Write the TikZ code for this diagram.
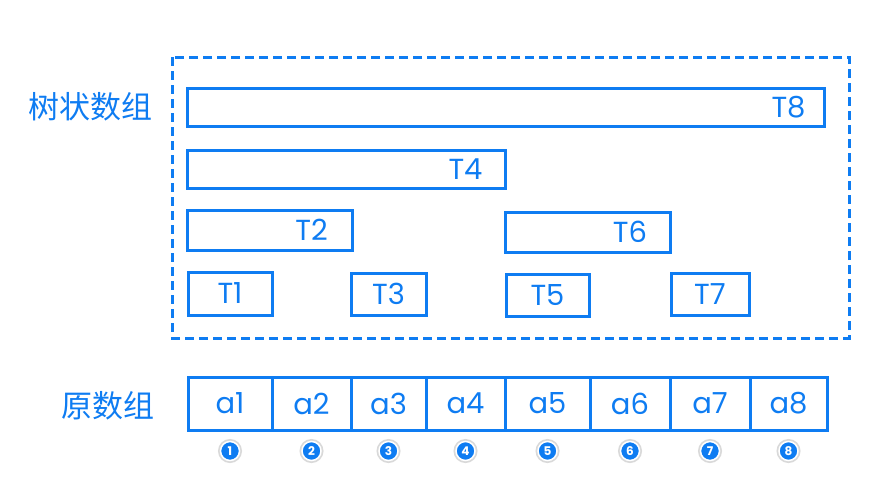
\documentclass[tikz,border=0pt]{standalone}
\usepackage{fontspec}
\setmainfont{Poppins}
\newfontfamily\cjk{Noto Sans CJK SC}
\usepackage{tikz}
\usetikzlibrary{calc}
\definecolor{tblue}{RGB}{14,124,242}

\begin{document}
\begin{tikzpicture}[x=1pt, y=-1pt, line width=3pt, inner sep=0pt,
		box/.style={rectangle, draw=tblue},
		lbl/.style={text=tblue, font=\fontsize{29}{32}\selectfont},
		cell/.style={rectangle, draw=tblue, minimum height=53pt, text=tblue, font=\fontsize{29}{32}\selectfont},
		num/.style={circle, fill=tblue, draw=white, line width=1.5pt, minimum size=19pt, text=white,
			font=\fontsize{12}{12}\selectfont\bfseries, preaction={draw=black!15, line width=5pt}},
		arrname/.style={text=tblue, font=\fontsize{31}{34}\selectfont\cjk}]
			\useasboundingbox (0,0) rectangle (892,499);
			
			% tree array
			\draw[tblue, dashed, dash pattern=on 9pt off 5pt] (172,57) rectangle (849,338);
			\node[arrname](tree) at (90,107) {树状数组};
			
			\node[box, minimum width=637pt, minimum height=38pt](T8) at (505.5,107) {};
			\node[box, minimum width=318pt, minimum height=38pt](T4) at (346,169) {};
			\node[box, minimum width=165pt, minimum height=40pt](T2) at (269.5,230) {};
			\node[box, minimum width=165pt, minimum height=40pt](T6) at (587.5,232) {};
			\node[box, lbl, minimum width=84pt, minimum height=43pt](T1) at (230,293.5) {T1};
			\node[box, lbl, minimum width=75pt, minimum height=42pt](T3) at (388.5,294) {T3};
			\node[box, lbl, minimum width=83pt, minimum height=42pt](T5) at (547.5,295) {T5};
			\node[box, lbl, minimum width=78pt, minimum height=42pt](T7) at (710,294) {T7};
			
			% original array
			\node[arrname](orig) at (108,406) {原数组};
			\node[cell, minimum width=84pt](a1) at (230,403.5) {a1};
			\node[cell, minimum width=79pt](a2) at (311.5,403.5) {a2};
			\node[cell, minimum width=75pt](a3) at (388.5,403.5) {a3};
			\node[cell, minimum width=79pt](a4) at (465.5,403.5) {a4};
			\node[cell, minimum width=85pt](a5) at (547.5,403.5) {a5};
			\node[cell, minimum width=80pt](a6) at (630,403.5) {a6};
			\node[cell, minimum width=80pt](a7) at (710,403.5) {a7};
			\node[cell, minimum width=77pt](a8) at (788.5,403.5) {a8};
			
			\node[lbl](T8t) at (a8 |- T8) {T8};
			\node[lbl](T4t) at (a4 |- T4) {T4};
			\node[lbl](T2t) at (a2 |- T2) {T2};
			\node[lbl](T6t) at (a6 |- T6) {T6};
			
			\node[num](n1) at ($(a1)+(0,47.5)$) {1};
			\node[num](n2) at ($(a2)+(0,47.5)$) {2};
			\node[num](n3) at ($(a3)+(0,47.5)$) {3};
			\node[num](n4) at ($(a4)+(0,47.5)$) {4};
			\node[num](n5) at ($(a5)+(0,47.5)$) {5};
			\node[num](n6) at ($(a6)+(0,47.5)$) {6};
			\node[num](n7) at ($(a7)+(0,47.5)$) {7};
			\node[num](n8) at ($(a8)+(0,47.5)$) {8};
		\end{tikzpicture}
\end{document}
